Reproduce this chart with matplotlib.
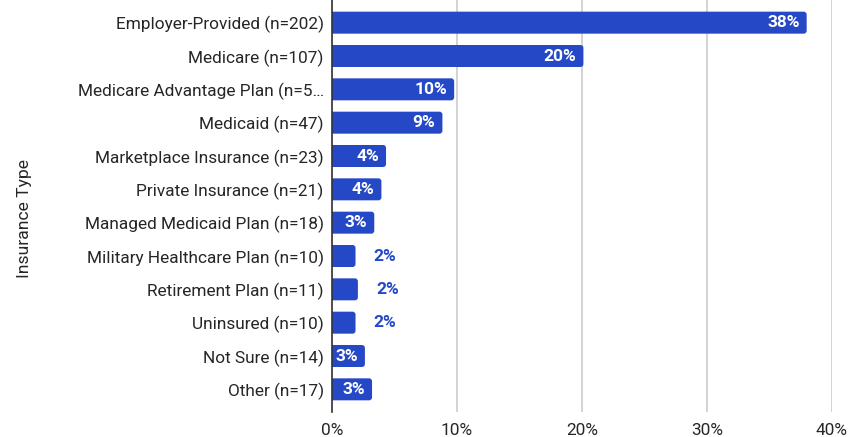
import matplotlib.pyplot as plt
from matplotlib.patches import FancyBboxPatch

plt.rcParams['font.family'] = ['Roboto', 'DejaVu Sans']

categories = ["Employer-Provided (n=202)", "Medicare (n=107)", "Medicare Advantage Plan (n=5\u2026",
              "Medicaid (n=47)", "Marketplace Insurance (n=23)", "Private Insurance (n=21)",
              "Managed Medicaid Plan (n=18)", "Military Healthcare Plan (n=10)", "Retirement Plan (n=11)",
              "Uninsured (n=10)", "Not Sure (n=14)", "Other (n=17)"]
shares = [37.97, 20.11, 9.77, 8.83, 4.32, 3.95, 3.38, 1.88, 2.07, 1.88, 2.63, 3.20]
xticks = [0, 10, 20, 30, 40]

blue = '#2549c6'
text_col = '#262626'

fig = plt.figure(figsize=(8.54, 4.37), dpi=100)
ax = fig.add_axes([0.3888, 0.0572, 0.5855, 0.9428])

ax.set_xlim(0, 40)
ax.set_ylim(len(categories) - 0.32, -0.68)

# bar geometry: convert a few pixels into data units for the rounded ends
px_x = 40 / (0.5855 * 854)
px_y = (len(categories) + 0.36) / (0.9428 * 437)
h = 0.66
for i, v in enumerate(shares):
    patch = FancyBboxPatch((-0.4, i - h / 2), v + 0.4, h,
                           boxstyle="round,pad=0,rounding_size=%f" % (3 * px_x),
                           mutation_aspect=px_y / px_x,
                           fc=blue, ec='none', zorder=3)
    ax.add_patch(patch)
    lbl = "%d%%" % round(v)
    if v >= 2.5:
        ax.text(v - 7 * px_x, i, lbl, ha='right', va='center', color='white',
                fontsize=12.5, fontweight='bold', zorder=4)
    else:
        ax.text(v + 18 * px_x, i, lbl, ha='left', va='center', color=blue,
                fontsize=12.5, fontweight='bold', zorder=4)

ax.set_yticks(range(len(categories)))
ax.set_yticklabels(categories, fontsize=12.4, color=text_col)
ax.set_xticks(xticks)
ax.set_xticklabels(["%d%%" % t for t in xticks], fontsize=12.4, color=text_col)
ax.tick_params(axis='both', length=0)
ax.tick_params(axis='y', pad=6)
ax.tick_params(axis='x', pad=8)

ax.grid(axis='x', color='#cccccc', linewidth=1.2, zorder=0)
for s in ['top', 'right', 'bottom']:
    ax.spines[s].set_visible(False)
ax.spines['left'].set_color('#333333')
ax.spines['left'].set_linewidth(1.2)
ax.spines['left'].set_zorder(5)

fig.text(0.029, 0.5, "Insurance Type", rotation=90, ha='center', va='center',
         fontsize=12.6, color=text_col)

fig.savefig('out.png', dpi=100)
